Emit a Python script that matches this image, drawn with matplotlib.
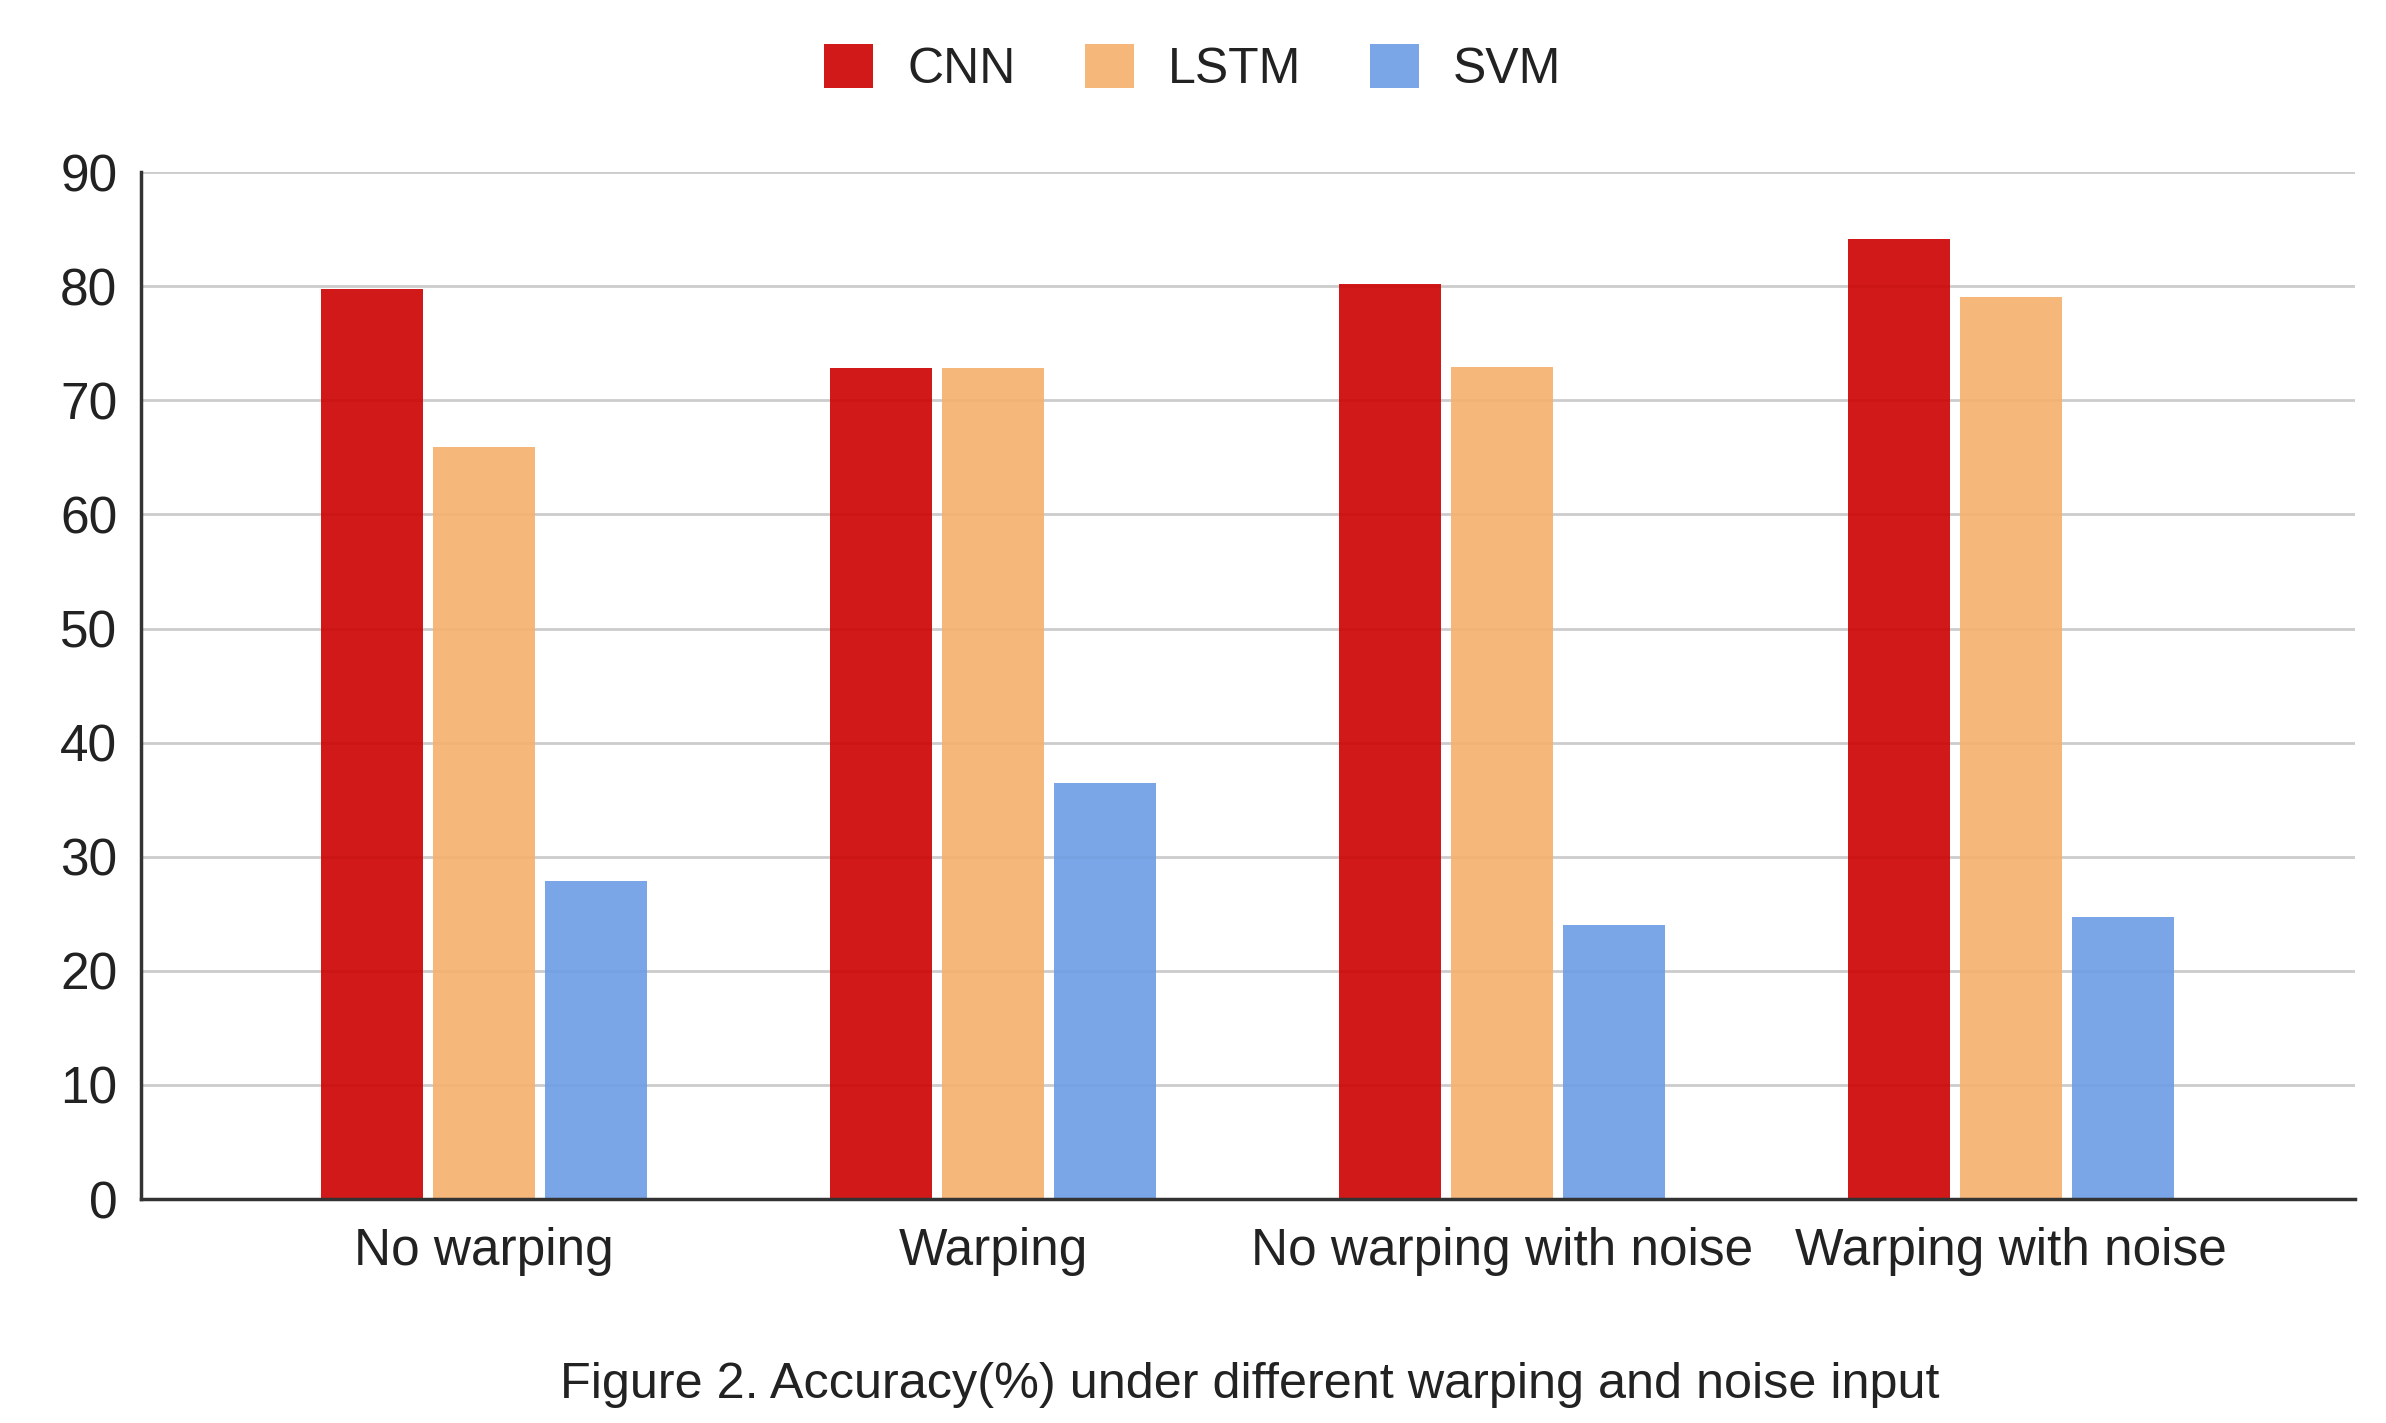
import matplotlib
matplotlib.use('Agg')
import matplotlib.pyplot as plt
import numpy as np

plt.rcParams['font.family'] = ['Liberation Sans', 'DejaVu Sans']

categories = ['No warping', 'Warping', 'No warping with noise', 'Warping with noise']
series = ['CNN', 'LSTM', 'SVM']
cnn = [79.8, 72.8, 80.2, 84.1]
lstm = [65.9, 72.8, 72.9, 79.1]
svm = [27.9, 36.5, 24.0, 24.7]
colors = ['#cc0000', '#f5b16c', '#6c9de5']
caption = 'Figure 2. Accuracy(%) under different warping and noise input'

text_color = '#222222'
fs = 37

fig = plt.figure(figsize=(23.86, 14.23), dpi=100)
ax = fig.add_axes([0.0591, 0.1574, 0.928, 0.7216])

x = np.arange(len(categories))
width = 0.2
step = 0.22
for i, (name, vals) in enumerate(zip(series, [cnn, lstm, svm])):
    ax.bar(x + (i - 1) * step, vals, width, color=colors[i], alpha=0.9,
           label=name, zorder=3, linewidth=0)

ax.set_xlim(-0.674, 3.676)
ax.set_ylim(0, 90)
ax.set_yticks(np.arange(0, 91, 10))
ax.set_xticks(x)
ax.set_xticklabels(categories)
ax.yaxis.grid(True, color='#cccccc', linewidth=2, zorder=1)
ax.set_axisbelow(True)

for s in ['top', 'right']:
    ax.spines[s].set_visible(False)
for s in ['left', 'bottom']:
    ax.spines[s].set_color('#333333')
    ax.spines[s].set_linewidth(2.5)
    ax.spines[s].set_zorder(4)

ax.tick_params(axis='both', length=0, labelsize=fs, colors=text_color)
ax.tick_params(axis='y', pad=17)
ax.tick_params(axis='x', pad=20)

fig.legend(loc='center', bbox_to_anchor=(0.5, 0.952), ncol=3, frameon=False,
           fontsize=36, handlelength=0.98, handleheight=0.98,
           handletextpad=0.68, columnspacing=1.38, labelcolor=text_color)

fig.text(0.5236, 0.027, caption, ha='center', va='center', fontsize=36.3,
         color=text_color)

fig.savefig('out.png', dpi=100)
